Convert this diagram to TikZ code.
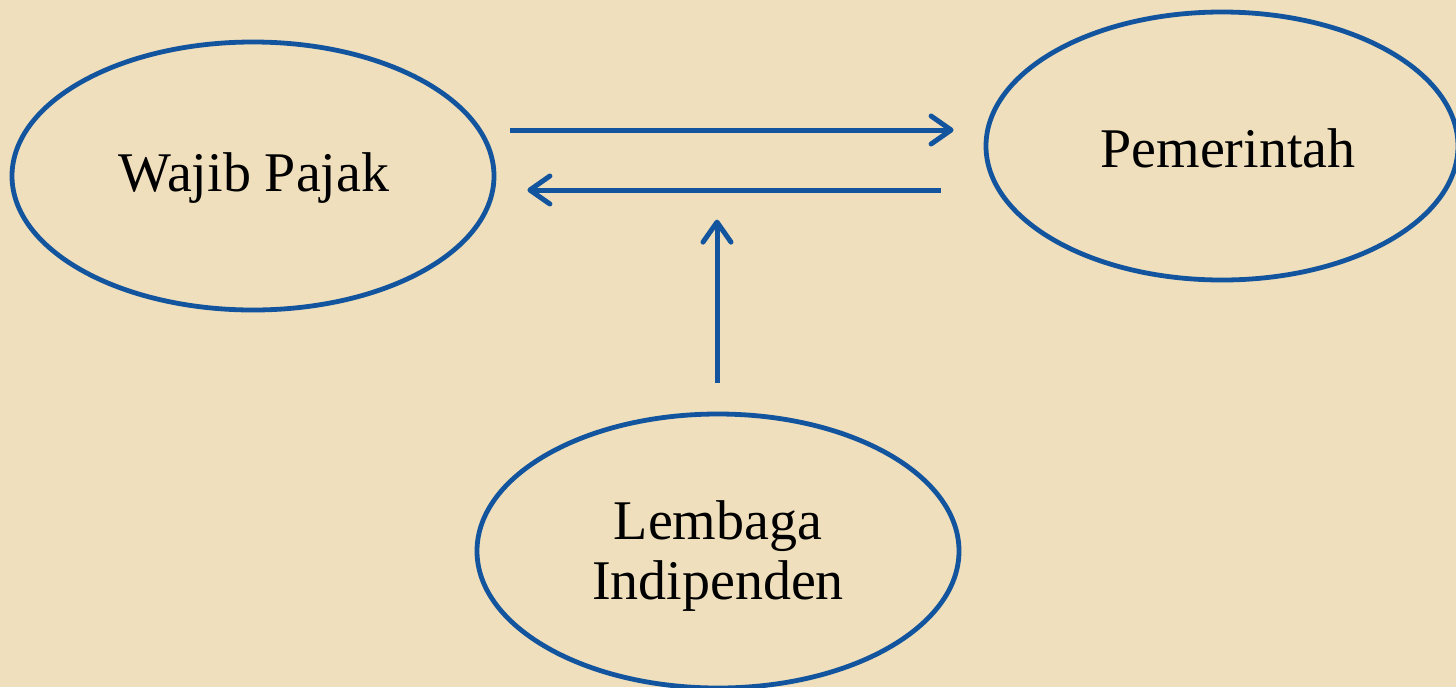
\documentclass[tikz,border=0pt]{standalone}
\usepackage{fontspec}
\setmainfont{Liberation Serif}
\usetikzlibrary{shapes.geometric,arrows.meta,calc}
\definecolor{parchment}{RGB}{239,223,188}
\definecolor{flowblue}{RGB}{18,84,158}
\tikzset{
  party/.style={draw=flowblue, line width=2.4pt, ellipse, inner sep=0pt},
  caption/.style={font=\fontsize{28}{30}\selectfont, text=black, align=center, inner sep=0pt},
  flow/.style={draw=flowblue, line width=2.5pt,
    -{Straight Barb[length=10pt,width=14pt,line cap=round,line join=round]}}
}
\begin{document}
\begin{tikzpicture}[x=0.5pt,y=-0.5pt]
  \fill[parchment] (0,0) rectangle (1456,687);
  \useasboundingbox (0,0) rectangle (1456,687);

  % the three parties
  \node[party, minimum width=241pt, minimum height=134pt] (wp) at (253,176) {};
  \node[party, minimum width=236pt, minimum height=134pt] (pm) at (1222,146) {};
  \node[party, minimum width=241pt, minimum height=137pt] (li) at (718,551) {};

  \node[caption] (wpt) at (254,178) {Wajib Pajak};
  \node[caption] (pmt) at (1228,148) {Pemerintah};
  \node[caption] (lit) at (718,556) {Lembaga\\Indipenden};

  % arrow end points between the ellipses
  \coordinate (a1s) at ($(wp.east)+(14,-46)$);
  \coordinate (a1e) at ($(pm.west)+(-30,-16)$);
  \coordinate (a2s) at ($(pm.west)+(-43,44)$);
  \coordinate (a2e) at ($(wp.east)+(31,14)$);
  \coordinate (a3s) at ($(li.north)+(-1,-29)$);
  \coordinate (a3e) at ($(li.north)+(-1,-192)$);

  \draw[flow] (a1s) -- (a1e);
  \draw[flow] (a2s) -- (a2e);
  \draw[flow] (a3s) -- (a3e);
\end{tikzpicture}
\end{document}
